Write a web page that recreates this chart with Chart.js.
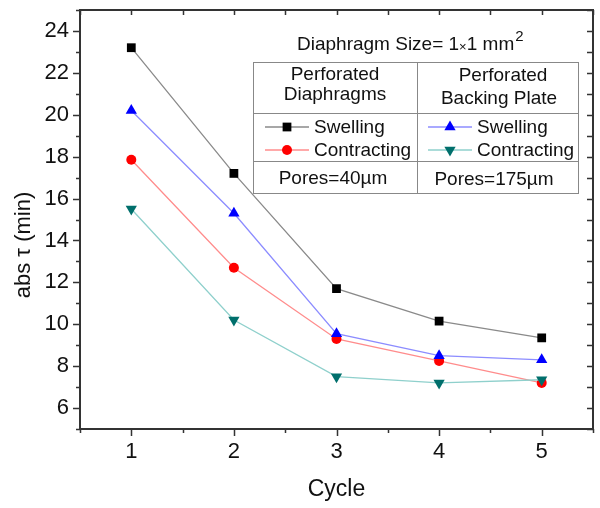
<!DOCTYPE html>
<html>
<head>
<meta charset="utf-8">
<script src="https://cdn.jsdelivr.net/npm/chart.js@4"></script>
<style>
  html, body { margin: 0; padding: 0; background: #fff; }
  #wrap { width: 600px; height: 508px; }
</style>
</head>
<body>
<div id="wrap"><canvas id="chart" width="600" height="508"></canvas></div>
<script>
// values
const cycles = [1, 2, 3, 4, 5];
const diaSwelling = [23.2, 17.2, 11.7, 10.15, 9.35];
const diaContracting = [17.85, 12.7, 9.3, 8.25, 7.2];
const plateSwelling = [20.2, 15.3, 9.55, 8.5, 8.3];
const plateContracting = [15.5, 10.2, 7.5, 7.2, 7.35];
const xTicks = [1, 2, 3, 4, 5];
const yTicks = [6, 8, 10, 12, 14, 16, 18, 20, 22, 24];

const FONT = '"Liberation Sans", Arial, sans-serif';
const AXIS = '#333';

function pts(vals) {
    return cycles.map((c, i) => ({ x: c, y: vals[i] }));
}

function series(label, vals, line, fill, style, rot, r) {
    return {
        label: label,
        data: pts(vals),
        borderColor: line,
        borderWidth: 1.3,
        pointStyle: style,
        pointRotation: rot,
        pointRadius: r,
        pointBackgroundColor: fill,
        pointBorderColor: fill,
        pointBorderWidth: 0,
        tension: 0
    };
}

// frame, tick marks, axis titles and the table-legend
const decor = {
    id: 'decor',
    afterDraw(chart) {
        const ctx = chart.ctx;
        const a = chart.chartArea;
        const xs = chart.scales.x, ys = chart.scales.y;
        ctx.save();
        ctx.strokeStyle = AXIS;
        ctx.lineWidth = 1.5;
        // ticks
        for (let v = 0.5; v <= 5.5; v += 0.5) {
            const px = Math.round(xs.getPixelForValue(v)) + 0.5;
            const len = Number.isInteger(v) ? 7 : 4;
            ctx.beginPath();
            ctx.moveTo(px, a.bottom); ctx.lineTo(px, a.bottom + len);
            ctx.moveTo(px, a.top); ctx.lineTo(px, a.top + 5);
            ctx.stroke();
        }
        for (let v = 5; v <= 25; v += 1) {
            const py = Math.round(ys.getPixelForValue(v)) + 0.5;
            const len = v % 2 === 0 ? 7 : 4;
            ctx.beginPath();
            ctx.moveTo(a.left, py); ctx.lineTo(a.left - len, py);
            ctx.moveTo(a.right, py); ctx.lineTo(a.right - 6, py);
            ctx.stroke();
        }
        ctx.lineWidth = 2;
        ctx.strokeRect(a.left, a.top, a.right - a.left, a.bottom - a.top);

        // axis titles
        ctx.fillStyle = '#111';
        ctx.textAlign = 'center';
        ctx.textBaseline = 'middle';
        ctx.font = '23px ' + FONT;
        ctx.fillText('Cycle', (a.left + a.right) / 2, 490);
        ctx.save();
        ctx.translate(24, 245);
        ctx.rotate(-Math.PI / 2);
        ctx.font = '22px ' + FONT;
        ctx.fillText('abs \u03C4 (min)', 0, 0);
        ctx.restore();

        // legend table
        const L = 253, M = 417, R = 578;
        const T = 62, r1 = 113, r2 = 161, B = 193;
        ctx.font = '19px ' + FONT;
        ctx.textAlign = 'left';
        const t1 = 'Diaphragm Size= 1';
        const t2 = '\u00D7';
        const t3 = '1 mm';
        let x0 = 297;
        ctx.fillText(t1, x0, 45); x0 += ctx.measureText(t1).width;
        ctx.font = '13px ' + FONT;
        ctx.fillText(t2, x0, 47); x0 += ctx.measureText(t2).width;
        ctx.font = '19px ' + FONT;
        ctx.fillText(t3, x0, 45); x0 += ctx.measureText(t3).width;
        ctx.font = '15px ' + FONT;
        ctx.fillText('2', x0 + 1, 37);

        ctx.strokeStyle = '#888';
        ctx.lineWidth = 1;
        ctx.strokeRect(L + 0.5, T + 0.5, R - L, B - T);
        ctx.beginPath();
        ctx.moveTo(L, r1 + 0.5); ctx.lineTo(R, r1 + 0.5);
        ctx.moveTo(L, r2 + 0.5); ctx.lineTo(R, r2 + 0.5);
        ctx.moveTo(M + 0.5, T); ctx.lineTo(M + 0.5, B);
        ctx.stroke();

        ctx.font = '19px ' + FONT;
        ctx.textAlign = 'center';
        ctx.fillStyle = '#111';
        ctx.fillText('Perforated', 335, 75);
        ctx.fillText('Diaphragms', 335, 95);
        ctx.fillText('Perforated', 503, 76);
        ctx.fillText('Backing Plate', 499, 99);
        ctx.fillText('Pores=40\u00B5m', 333, 179);
        ctx.fillText('Pores=175\u00B5m', 494, 180);

        const rows = [
            [diaSwelling, 265, 127, 'Swelling'],
            [diaContracting, 265, 150, 'Contracting'],
            [plateSwelling, 428, 127, 'Swelling'],
            [plateContracting, 428, 150, 'Contracting']
        ];
        ctx.textAlign = 'left';
        rows.forEach(([vals, lx, ly, txt]) => {
            const ds = chart.data.datasets.find(d => d.data[0].y === vals[0]);
            ctx.strokeStyle = ds.borderColor;
            ctx.lineWidth = 1.3;
            ctx.beginPath();
            ctx.moveTo(lx, ly); ctx.lineTo(lx + 44, ly);
            ctx.stroke();
            ctx.fillStyle = ds.pointBackgroundColor;
            Chart.helpers.drawPoint(ctx, {
                pointStyle: ds.pointStyle, rotation: ds.pointRotation,
                radius: ds.pointRadius, borderWidth: 0
            }, lx + 22, ly);
            ctx.fillStyle = '#111';
            ctx.fillText(txt, lx + 49, ly + 1);
        });
        ctx.restore();
    }
};

new Chart(document.getElementById('chart').getContext('2d'), {
    type: 'line',
    data: {
        datasets: [
            series('Backing Plate Contracting', plateContracting, '#8fd0cc', '#006f6c', 'triangle', 180, 6.5),
            series('Backing Plate Swelling', plateSwelling, '#8c8cff', '#0000ff', 'triangle', 0, 6.5),
            series('Diaphragms Contracting', diaContracting, '#ff8c8c', '#ff0000', 'circle', 0, 5),
            series('Diaphragms Swelling', diaSwelling, '#8a8a8a', '#000000', 'rect', 0, 6.2)
        ]
    },
    options: {
        responsive: false,
        animation: false,
        devicePixelRatio: 1,
        layout: { padding: { left: 0, right: 7, top: 10, bottom: 0 } },
        plugins: { legend: { display: false }, tooltip: { enabled: false } },
        scales: {
            x: {
                type: 'linear',
                min: 0.5,
                max: 5.5,
                afterBuildTicks: s => { s.ticks = xTicks.map(v => ({ value: v })); },
                afterFit: s => { s.height = 79; s.paddingLeft = 0; s.paddingRight = 0; },
                grid: { display: false, drawTicks: false },
                border: { display: false },
                ticks: { color: '#111', padding: 10, font: { family: FONT, size: 22 } }
            },
            y: {
                min: 5,
                max: 25,
                afterBuildTicks: s => { s.ticks = yTicks.map(v => ({ value: v })); },
                afterFit: s => { s.width = 80; s.paddingTop = 0; s.paddingBottom = 0; },
                grid: { display: false, drawTicks: false },
                border: { display: false },
                ticks: { color: '#111', padding: 11, font: { family: FONT, size: 22 } }
            }
        }
    },
    plugins: [decor]
});
</script>
</body>
</html>
